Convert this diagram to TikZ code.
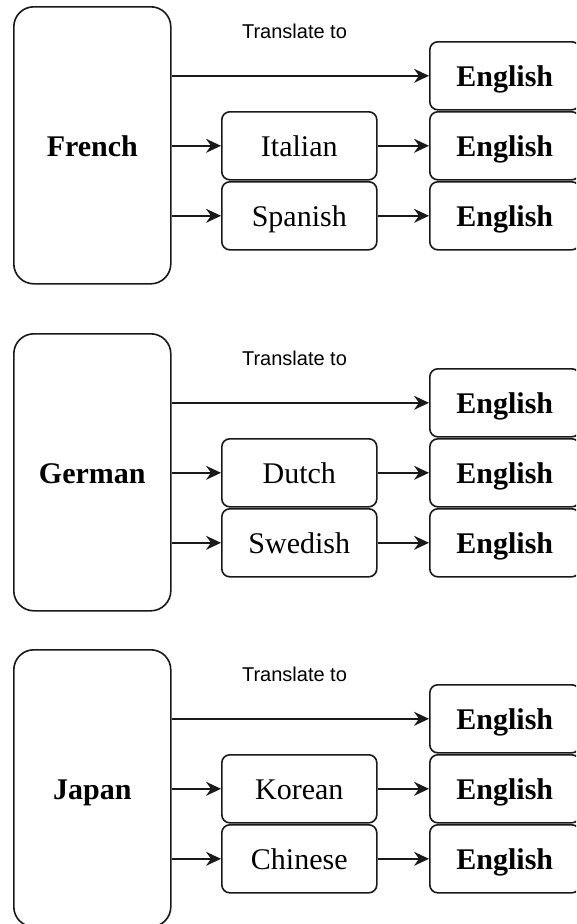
\documentclass[tikz,border=0pt]{standalone}
\usepackage{fontspec}
\setmainfont{Liberation Serif}
\newfontfamily\notesans{Liberation Sans}
\usetikzlibrary{arrows.meta}

% One language group: a tall source box, two intermediate languages,
% three English targets and the connecting arrows.
\newcommand\langblock[5]{%
  \node[srcbox] (#1) at (13,#2) {#3};
  \node[tgtbox] (#1e1) at (429,#2+35) {English};
  \node[tgtbox] (#1e2) at (429,#2+105) {English};
  \node[tgtbox] (#1e3) at (429,#2+175) {English};
  \node[midbox] (#1m1) at (221,#2+105) {#4};
  \node[midbox] (#1m2) at (221,#2+175) {#5};
  \node[note] (#1note) at (294.5,#2+32) {Translate to};
  \draw[link] (#1.east |- #1e1.west) -- (#1e1.west);
  \draw[link] (#1.east |- #1m1.west) -- (#1m1.west);
  \draw[link] (#1.east |- #1m2.west) -- (#1m2.west);
  \draw[link] (#1m1.east) -- (#1e2.west);
  \draw[link] (#1m2.east) -- (#1e3.west);
}

\begin{document}
\begin{tikzpicture}[x=1pt,y=-1pt,
  box/.style={draw=black!90, line width=1.6pt, fill=white, inner sep=0pt,
    anchor=north west, text height=26pt, text depth=4pt},
  srcbox/.style={box, rounded corners=20pt, minimum width=157pt,
    minimum height=277pt, font=\fontsize{30}{36}\selectfont\bfseries},
  midbox/.style={box, rounded corners=8pt, minimum width=155pt,
    minimum height=68pt, font=\fontsize{30}{36}\selectfont},
  tgtbox/.style={box, rounded corners=8pt, minimum width=150pt,
    minimum height=68pt, font=\fontsize{30}{36}\selectfont\bfseries},
  link/.style={-{Stealth[length=15pt,width=14pt,inset=5pt]},
    line width=1.5pt, draw=black!90},
  note/.style={anchor=base, inner sep=0pt,
    font=\notesans\fontsize{20}{24}\selectfont}
]
\useasboundingbox (0,0) rectangle (576,924);
\clip (0,0) rectangle (576,924);

\langblock{fr}{6}{French}{Italian}{Spanish}
\langblock{de}{333}{German}{Dutch}{Swedish}
\langblock{jp}{649}{Japan}{Korean}{Chinese}
\end{tikzpicture}
\end{document}
